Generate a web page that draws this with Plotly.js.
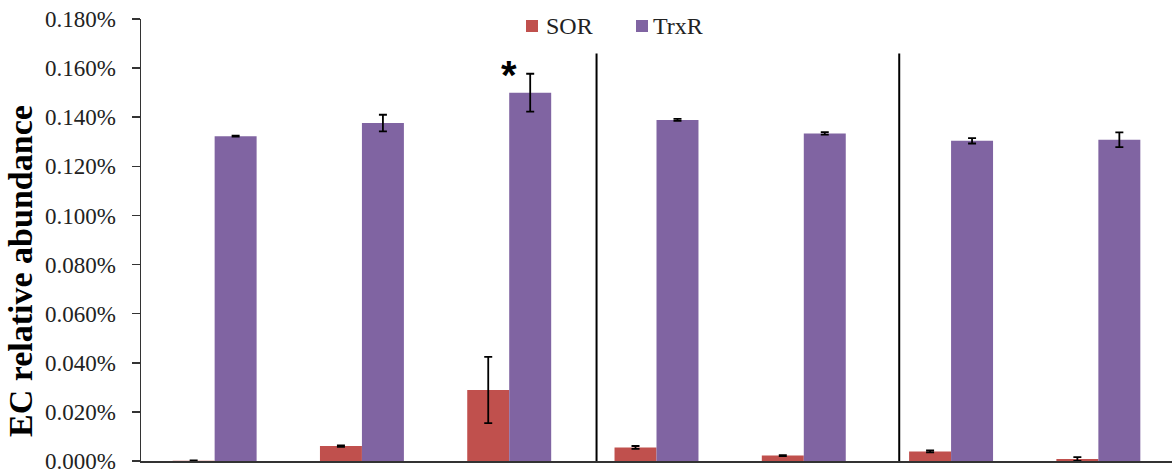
<!DOCTYPE html>
<html>
<head>
<meta charset="utf-8">
<script src="https://cdn.plot.ly/plotly-3.0.1.min.js"></script>
<style>html,body{margin:0;padding:0;background:#fff;}#chart{width:1172px;height:476px;}</style>
</head>
<body>
<div id="chart"></div>
<script>
// Data (values as fractions; axis formatted as %)
const categories = ["G1", "G2", "G3", "G4", "G5", "G6", "G7"];
const sorValues = [0.000001, 0.000061, 0.000289, 0.000055, 0.000022, 0.000039, 0.000008];
const sorErrors = [0.000001, 0.000003, 0.000135, 0.000006, 0.000002, 0.000004, 0.000008];
const trxrValues = [0.001323, 0.001376, 0.001500, 0.001389, 0.001334, 0.001304, 0.001308];
const trxrErrors = [0.000002, 0.000034, 0.000077, 0.000004, 0.000005, 0.000011, 0.000030];
const seriesNames = ["SOR", "TrxR"];
const seriesColors = ["#C0504D", "#8064A2"];
const separatorPositions = [2.593, 4.648];
const separatorTop = 0.00166;
const starCategory = "G3";
const starValue = 0.00157;

const SERIF = '"Liberation Serif", "Times New Roman", serif';
const errStyle = {type: 'data', visible: true, color: '#000', thickness: 1.8, width: 4};

const traces = [
  {type: 'bar', name: seriesNames[0], x: categories, y: sorValues,
   marker: {color: seriesColors[0]},
   error_y: Object.assign({array: sorErrors}, errStyle)},
  {type: 'bar', name: seriesNames[1], x: categories, y: trxrValues,
   marker: {color: seriesColors[1]},
   error_y: Object.assign({array: trxrErrors}, errStyle)}
];

const shapes = separatorPositions.map(p => ({
  type: 'line', xref: 'x', yref: 'y', x0: p, x1: p, y0: 0, y1: separatorTop,
  line: {color: '#000', width: 2}
}));

// manual legend (pixel positions converted to paper coords)
const PL = 141, PW = 1031, PT = 19, PH = 442;
const px = v => (v - PL) / PW;
const py = v => (PT + PH - v) / PH;
const legendSquares = [526, 636];
const legendTexts = [544, 651];
seriesNames.forEach((n, i) => {
  shapes.push({type: 'rect', xref: 'paper', yref: 'paper',
    x0: px(legendSquares[i]), x1: px(legendSquares[i] + 12), y0: py(32), y1: py(20),
    fillcolor: seriesColors[i], line: {width: 0}});
});

const annotations = seriesNames.map((n, i) => ({
  xref: 'paper', yref: 'paper', x: px(legendTexts[i]), y: py(26), text: n,
  showarrow: false, xanchor: 'left', yanchor: 'middle',
  font: {family: SERIF, size: 24, color: '#222'}
}));
annotations.push(
  {xref: 'x', yref: 'y', x: starCategory, y: starValue, text: '<b>*</b>', showarrow: false,
   font: {family: '"Liberation Sans", Arial, sans-serif', size: 40, color: '#000'}, yanchor: 'middle'},
  {xref: 'paper', yref: 'paper', x: px(20), y: py(271), text: '<b>EC relative abundance</b>',
   textangle: -90, showarrow: false, xanchor: 'center', yanchor: 'middle',
   font: {family: SERIF, size: 34, color: '#000'}}
);

const layout = {
  width: 1172, height: 476,
  margin: {l: 141, r: 0, t: 19, b: 15},
  font: {family: SERIF, color: '#222'},
  paper_bgcolor: '#fff', plot_bgcolor: '#fff',
  barmode: 'group', bargap: 0.43, bargroupgap: 0,
  showlegend: false,
  xaxis: {type: 'category', range: [-0.5, 6.5], showticklabels: false, ticks: '',
          showline: true, linecolor: '#333', linewidth: 1.5, showgrid: false, zeroline: false},
  yaxis: {range: [0, 0.0018], dtick: 0.0002, tickformat: '.3%', ticks: 'outside', ticklen: 8,
          tickcolor: '#333', tickwidth: 1.5, showline: true, linecolor: '#333', linewidth: 1.5,
          showgrid: false, zeroline: false, ticklabelstandoff: 11,
          tickfont: {family: SERIF, size: 23, color: '#222'}},
  shapes: shapes,
  annotations: annotations
};

Plotly.newPlot('chart', traces, layout, {displayModeBar: false, staticPlot: true});
</script>
</body>
</html>
